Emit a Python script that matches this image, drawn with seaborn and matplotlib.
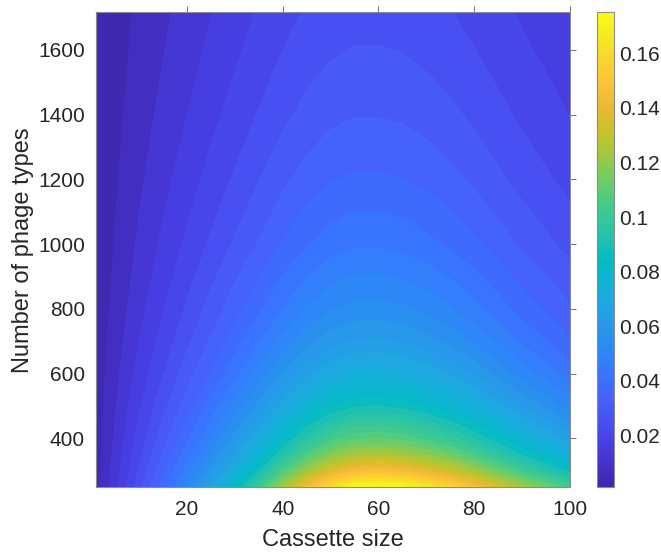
import numpy as np
import matplotlib
matplotlib.use("Agg")
import matplotlib.pyplot as plt
import seaborn as sns
from matplotlib.colors import LinearSegmentedColormap, Normalize
from matplotlib.ticker import FormatStrFormatter

# grid
cassette_size = [1, 5, 10, 15, 20, 25, 30, 35, 40, 45, 50, 55, 60, 65, 70, 75, 80, 85, 90, 95, 100]
phage_types = [250, 300, 350, 400, 500, 600, 700, 800, 1000, 1200, 1400, 1600, 1715]

# estimated values, one row per number of phage types
row_250 = [0.0036, 0.0123, 0.0250, 0.0381, 0.0515, 0.0657, 0.0818, 0.1005, 0.1220, 0.1433, 0.1607, 0.1722, 0.1748, 0.1720, 0.1652, 0.1568, 0.1460, 0.1340, 0.1220, 0.1120, 0.1020]
row_300 = [0.0035, 0.0115, 0.0230, 0.0345, 0.0462, 0.0584, 0.0719, 0.0873, 0.1045, 0.1214, 0.1350, 0.1438, 0.1457, 0.1433, 0.1377, 0.1307, 0.1217, 0.1117, 0.1017, 0.0933, 0.0850]
row_350 = [0.0033, 0.0108, 0.0214, 0.0317, 0.0421, 0.0528, 0.0645, 0.0774, 0.0918, 0.1055, 0.1165, 0.1235, 0.1249, 0.1229, 0.1180, 0.1120, 0.1043, 0.0957, 0.0871, 0.0800, 0.0729]
row_400 = [0.0032, 0.0102, 0.0200, 0.0294, 0.0388, 0.0484, 0.0587, 0.0699, 0.0820, 0.0935, 0.1026, 0.1083, 0.1093, 0.1075, 0.1033, 0.0980, 0.0913, 0.0838, 0.0763, 0.0700, 0.0638]
row_500 = [0.0028, 0.0091, 0.0176, 0.0255, 0.0334, 0.0414, 0.0497, 0.0585, 0.0677, 0.0763, 0.0828, 0.0869, 0.0874, 0.0860, 0.0826, 0.0784, 0.0730, 0.0670, 0.0610, 0.0560, 0.0510]
row_600 = [0.0026, 0.0081, 0.0155, 0.0224, 0.0292, 0.0360, 0.0429, 0.0501, 0.0576, 0.0643, 0.0694, 0.0725, 0.0728, 0.0717, 0.0688, 0.0653, 0.0608, 0.0558, 0.0508, 0.0467, 0.0425]
row_700 = [0.0023, 0.0073, 0.0139, 0.0200, 0.0260, 0.0319, 0.0378, 0.0440, 0.0502, 0.0557, 0.0598, 0.0622, 0.0624, 0.0614, 0.0590, 0.0560, 0.0521, 0.0479, 0.0436, 0.0400, 0.0364]
row_800 = [0.0021, 0.0066, 0.0125, 0.0180, 0.0233, 0.0286, 0.0338, 0.0391, 0.0444, 0.0491, 0.0525, 0.0545, 0.0546, 0.0538, 0.0516, 0.0490, 0.0456, 0.0419, 0.0381, 0.0350, 0.0319]
row_1000 = [0.0018, 0.0055, 0.0104, 0.0148, 0.0192, 0.0234, 0.0276, 0.0318, 0.0360, 0.0396, 0.0422, 0.0437, 0.0437, 0.0430, 0.0413, 0.0392, 0.0365, 0.0335, 0.0305, 0.0280, 0.0255]
row_1200 = [0.0015, 0.0047, 0.0088, 0.0126, 0.0163, 0.0198, 0.0233, 0.0268, 0.0303, 0.0332, 0.0353, 0.0364, 0.0364, 0.0358, 0.0344, 0.0327, 0.0304, 0.0279, 0.0254, 0.0233, 0.0213]
row_1400 = [0.0013, 0.0040, 0.0076, 0.0108, 0.0139, 0.0170, 0.0200, 0.0230, 0.0259, 0.0284, 0.0302, 0.0312, 0.0312, 0.0307, 0.0295, 0.0280, 0.0261, 0.0239, 0.0218, 0.0200, 0.0182]
row_1600 = [0.0011, 0.0035, 0.0066, 0.0094, 0.0122, 0.0149, 0.0175, 0.0201, 0.0227, 0.0249, 0.0264, 0.0273, 0.0273, 0.0269, 0.0258, 0.0245, 0.0228, 0.0209, 0.0191, 0.0175, 0.0159]
row_1715 = [0.0010, 0.0033, 0.0062, 0.0088, 0.0114, 0.0139, 0.0163, 0.0188, 0.0212, 0.0232, 0.0247, 0.0255, 0.0255, 0.0251, 0.0241, 0.0229, 0.0213, 0.0195, 0.0178, 0.0163, 0.0149]

cbar_ticks = [0.02, 0.04, 0.06, 0.08, 0.1, 0.12, 0.14, 0.16]
x_ticks = [20, 40, 60, 80, 100]
y_ticks = [400, 600, 800, 1000, 1200, 1400, 1600]

Z = np.array([row_250, row_300, row_350, row_400, row_500, row_600, row_700,
              row_800, row_1000, row_1200, row_1400, row_1600, row_1715])
X, Y = np.meshgrid(cassette_size, phage_types)

# parula-like colormap
parula = LinearSegmentedColormap.from_list("parula", [
    (0.2422, 0.1504, 0.6603), (0.2647, 0.1978, 0.7952), (0.2783, 0.2559, 0.8991),
    (0.2810, 0.3228, 0.9579), (0.2699, 0.3892, 0.9906), (0.2206, 0.4603, 0.9973),
    (0.1786, 0.5289, 0.9682), (0.1540, 0.5902, 0.9218), (0.1248, 0.6459, 0.8883),
    (0.0689, 0.6948, 0.8394), (0.0067, 0.7312, 0.7660), (0.1408, 0.7584, 0.6842),
    (0.2161, 0.7843, 0.5923), (0.3406, 0.8008, 0.4789), (0.5044, 0.7993, 0.3480),
    (0.6720, 0.7793, 0.2227), (0.8203, 0.7498, 0.1535), (0.9393, 0.7288, 0.2100),
    (0.9970, 0.7659, 0.2199), (0.9786, 0.8386, 0.1766), (0.9597, 0.9135, 0.1423),
    (0.9769, 0.9839, 0.0805)])

sns.set_style("white")
plt.rcParams["font.family"] = ["Liberation Sans", "DejaVu Sans"]

vmin, vmax = 0.001, 0.175
norm = Normalize(vmin=vmin, vmax=vmax)

fig = plt.figure(figsize=(6.61, 5.52), dpi=100)
ax = fig.add_axes([0.1452, 0.1178, 0.7171, 0.8596])
cax = fig.add_axes([0.9032, 0.1178, 0.0257, 0.8596])

cs = ax.contourf(X, Y, Z, levels=np.linspace(vmin, vmax, 41), cmap=parula,
                 norm=norm, extend="both")
# hide the thin seams between filled bands
cs.set_edgecolor("face")
cs.set_linewidth(0.6)

ax.set_xlim(1, 100)
ax.set_ylim(250, 1715)
ax.set_xticks(x_ticks)
ax.set_yticks(y_ticks)

txt = "#262626"
ax.tick_params(direction="out", length=4.5, width=0.7, colors="0.45",
               labelcolor=txt, labelsize=15, top=True, right=True)
ax.tick_params(axis="x", pad=5)
for s in ax.spines.values():
    s.set_color("0.55")
    s.set_linewidth(0.8)
    s.set_zorder(5)
ax.set_xlabel("Cassette size", fontsize=17, color=txt, labelpad=7)
ax.set_ylabel("Number of phage types", fontsize=17, color=txt, labelpad=3)

cb = fig.colorbar(plt.cm.ScalarMappable(norm=norm, cmap=parula), cax=cax)
cb.set_ticks(cbar_ticks)
cb.ax.yaxis.set_major_formatter(FormatStrFormatter("%g"))
cb.ax.tick_params(direction="in", length=4, width=0.7, colors="0.45",
                  labelcolor=txt, labelsize=15)
cb.outline.set_edgecolor("0.55")
cb.outline.set_linewidth(0.8)

fig.savefig("out.png", dpi=100)
